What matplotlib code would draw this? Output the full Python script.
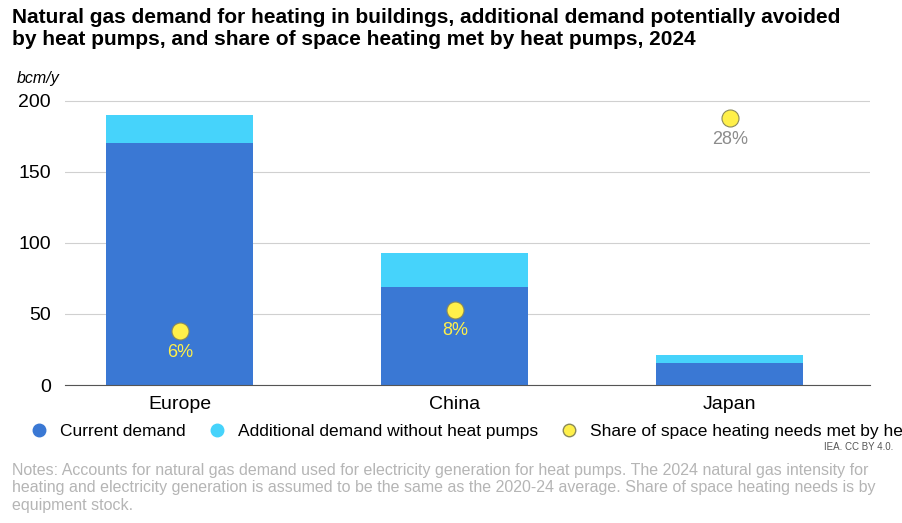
import matplotlib
matplotlib.use("Agg")
import matplotlib.pyplot as plt
from matplotlib.lines import Line2D

plt.rcParams["font.family"] = ["Liberation Sans", "DejaVu Sans"]

regions = ["Europe", "China", "Japan"]
current = [170, 69, 15.5]
additional = [20, 24, 5.5]
share_pos = [38, 53, 188]
share_labels = ["6%", "8%", "28%"]
yticks = [0, 50, 100, 150, 200]

W, H = 902, 523
fig = plt.figure(figsize=(W/100, H/100), dpi=100)
ax = fig.add_axes([65/W, 1-385/H, (870-65)/W, (385-95)/H])
x = range(len(regions))
ax.bar(x, current, width=0.535, color="#3a78d4", zorder=2)
ax.bar(x, additional, bottom=current, width=0.535, color="#46d3fb", zorder=2)
ax.scatter(x, share_pos, s=150, color="#fff04a", edgecolor="#8a8a5a", linewidth=0.8, zorder=3)
for i, (p, l) in enumerate(zip(share_pos, share_labels)):
    ax.text(i, p-15, l, ha="center", va="center", fontsize=13,
            color="#fff04a" if current[i] > p else "#8c8c8c", zorder=4)
ax.set_xlim(-0.418, 2.51)
ax.set_ylim(0, 204)
ax.set_yticks(yticks)
ax.tick_params(axis="y", length=0, labelsize=14, pad=10)
ax.tick_params(axis="x", length=0, labelsize=14, pad=8)
ax.set_xticks(list(x))
ax.set_xticklabels(regions)
ax.grid(axis="y", color="#d0d0d0", linewidth=0.8, zorder=0)
for s in ["top", "right", "left"]:
    ax.spines[s].set_visible(False)
ax.spines["bottom"].set_color("#555555")
ax.text(-0.06, 1.03, "bcm/y", transform=ax.transAxes, fontsize=11.5, style="italic", ha="left", va="bottom")

fig.text(12/W, 1-8/H, "Natural gas demand for heating in buildings, additional demand potentially avoided\nby heat pumps, and share of space heating met by heat pumps, 2024",
         fontsize=15, fontweight="bold", va="top", ha="left", linespacing=1.2)
handles = [Line2D([], [], marker="o", ls="", color="#3a78d4", markersize=9),
           Line2D([], [], marker="o", ls="", color="#46d3fb", markersize=9),
           Line2D([], [], marker="o", ls="", markerfacecolor="#fff04a", markeredgecolor="#8a8a5a", markersize=9)]
fig.legend(handles, ["Current demand", "Additional demand without heat pumps", "Share of space heating needs met by heat pumps"],
           loc="center left", bbox_to_anchor=(22/W, 1-431/H), ncol=3, frameon=False, fontsize=12.5,
           handletextpad=0.2, columnspacing=0.8, borderaxespad=0, borderpad=0)
fig.text(893/W, 1-447/H, "IEA. CC BY 4.0.", fontsize=7, ha="right", va="center", color="#555555")
fig.text(12/W, 1-463/H, "Notes: Accounts for natural gas demand used for electricity generation for heat pumps. The 2024 natural gas intensity for\nheating and electricity generation is assumed to be the same as the 2020-24 average. Share of space heating needs is by\nequipment stock.",
         fontsize=11.5, color="#b5b5b5", va="top", ha="left", linespacing=1.2)
fig.savefig("out.png", dpi=100)
